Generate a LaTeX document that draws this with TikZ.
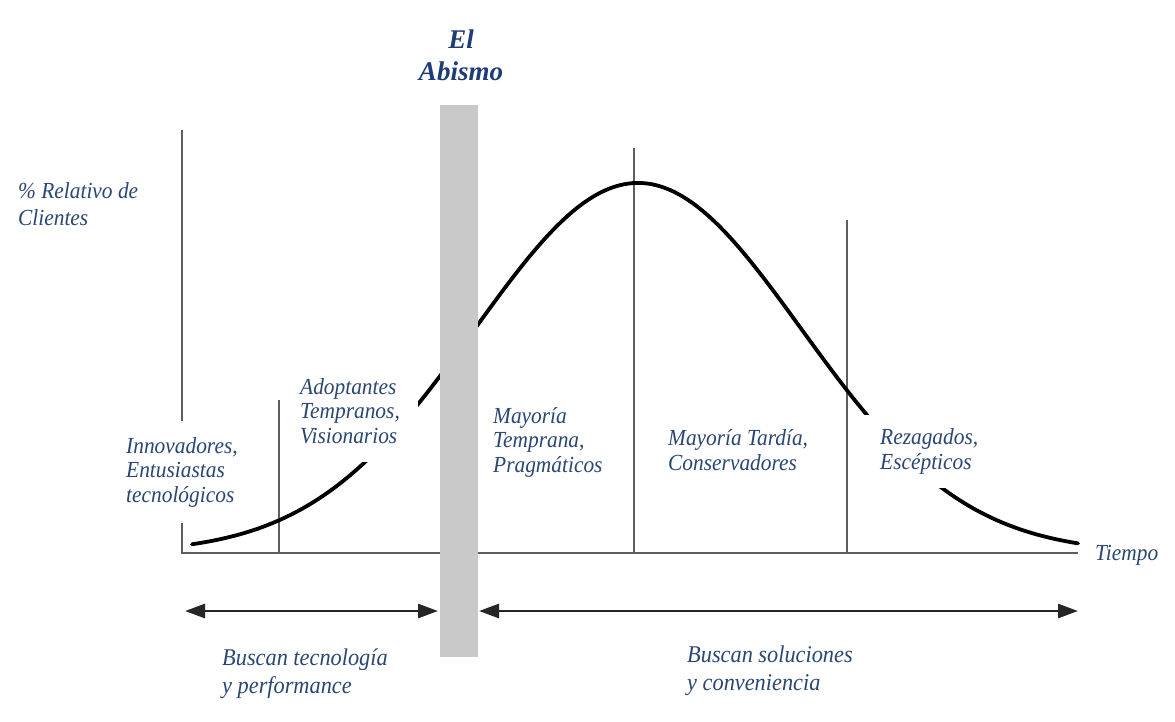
\documentclass[tikz,border=0pt]{standalone}
\usepackage{fontspec}
\setmainfont{Liberation Serif}
\newfontfamily\condserif[FakeStretch=0.93]{Liberation Serif}
\usetikzlibrary{arrows.meta}
\definecolor{lbl}{HTML}{2A4674}
\definecolor{ttl}{HTML}{1E3C78}
\definecolor{axisgray}{HTML}{5E5E5E}
\definecolor{bargray}{HTML}{C9C9C9}
\tikzset{
  lab/.style={font=\condserif\fontsize{23}{24.5}\selectfont\itshape, text=lbl, align=left, fill=white, anchor=base west, inner sep=6pt},
  biglab/.style={font=\condserif\fontsize{24}{28}\selectfont\itshape, text=lbl, align=left, anchor=base west, inner sep=2pt},
  axisline/.style={draw=axisgray, line width=2.5pt},
  divline/.style={draw=axisgray, line width=2pt},
  spanarrow/.style={line width=2.8pt, draw=black!85, {Triangle[length=20pt,width=14pt]}-{Triangle[length=20pt,width=14pt]}},
  curveline/.style={line width=3.8pt, draw=black, line cap=round},
}
\begin{document}
\begin{tikzpicture}[x=1pt,y=-1pt]
\useasboundingbox (0,0) rectangle (1175,721);
\fill[white] (0,0) rectangle (1175,721);
% axes
\coordinate (O) at (182,553);
\coordinate (ytop) at (182,130);
\coordinate (xend) at (1078,553);
\draw[axisline] (ytop) -- (O) -- (xend);
% divider lines
\coordinate (d1t) at (279,400); \coordinate (d1b) at (279,553);
\coordinate (d2t) at (634,148); \coordinate (d2b) at (634,553);
\coordinate (d3t) at (847,220); \coordinate (d3b) at (847,553);
\draw[divline] (d1t) -- (d1b);
\draw[divline] (d2t) -- (d2b);
\draw[divline] (d3t) -- (d3b);
% adoption curve
\draw[curveline] plot[domain=192:1078, samples=200, smooth] (\x, {553-370*exp(-0.5*((\x-638)/163)^2)});
% labels (anchored at the baseline of their last line; x = text left - inner xsep)
\node[lab, inner sep=4pt, font=\condserif\fontsize{23}{27}\selectfont\itshape] (yl) at (14,225) {\% Relativo de\\Clientes};
\node[lab, inner xsep=16pt, inner ysep=16pt] (inn) at (110,502) {Innovadores,\\Entusiastas\\tecnológicos};
\node[lab, inner xsep=18pt, inner ysep=19pt] (ado) at (282,443) {Adoptantes\\Tempranos,\\Visionarios};
\node[lab] (mtem) at (487,472) {Mayoría\\Temprana,\\Pragmáticos};
\node[lab] (mtar) at (662,470) {Mayoría Tardía,\\Conservadores};
\node[lab, inner xsep=20pt, inner ysep=14pt] (rez) at (860,469) {Rezagados,\\Escépticos};
\node[lab, inner sep=4pt] (tiempo) at (1091,560) {Tiempo};
% arrows
\coordinate (a1l) at (185,611); \coordinate (a1r) at (438,611);
\coordinate (a2l) at (479,611); \coordinate (a2r) at (1078,611);
\draw[spanarrow] (a1l) -- (a1r);
\draw[spanarrow] (a2l) -- (a2r);
\node[biglab] (bt) at (220,693) {Buscan tecnología\\y performance};
\node[biglab] (bs) at (685,690) {Buscan soluciones\\y conveniencia};
% chasm bar
\node[fill=bargray, minimum width=38pt, minimum height=552pt, inner sep=0pt, anchor=north] (bar) at (458.5,105) {};
\node[font=\fontsize{27}{32}\selectfont\bfseries\itshape, text=ttl, align=center, anchor=base, inner sep=0pt] (title) at (461,80) {El\\Abismo};
\end{tikzpicture}
\end{document}
